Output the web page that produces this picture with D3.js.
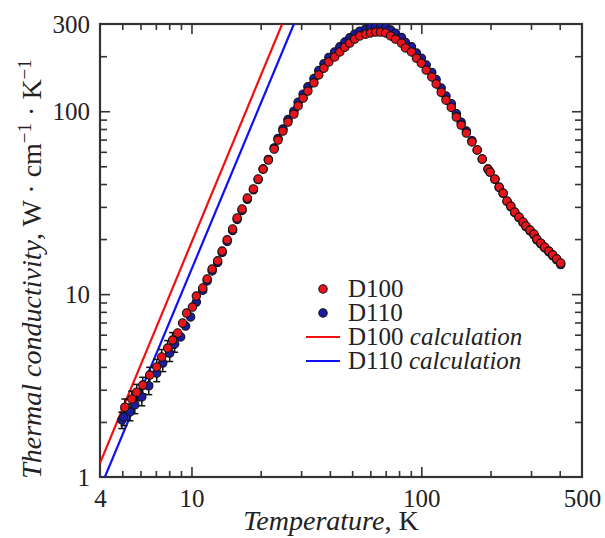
<!DOCTYPE html>
<html>
<head>
<meta charset="utf-8">
<script src="https://cdn.jsdelivr.net/npm/d3@7"></script>
<style>
  body { margin: 0; background: #fff; }
  svg text { font-family: "Liberation Serif", "Times New Roman", serif; fill: #222; }
</style>
</head>
<body>
<script>
'use strict';

// temperature (K) and thermal conductivity (W cm^-1 K^-1)
const tempRed = [5.13, 5.50, 5.78, 6.14, 6.58, 7.06, 7.42, 7.88, 8.28, 8.71, 9.15, 9.52, 10.1, 10.5, 11.2, 11.7,
  12.3, 13.0, 13.6, 14.3, 15.1, 15.8, 16.6, 17.5, 18.6, 19.5, 20.5, 21.6, 22.9, 23.8, 25.0, 26.3, 27.9, 29.1,
  30.6, 32.1, 34.1, 35.8, 37.7, 39.6, 42.0, 44.2, 46.5, 48.8, 51.3, 54.0, 57.3, 60.2, 63.3, 66.5, 69.9, 73.5,
  77.2, 82.0, 85.3, 90.6, 95.2, 100, 105, 111, 116, 122, 128, 135, 142, 149, 157, 166, 175, 184, 195, 199,
  209, 218, 227, 236, 245, 255, 266, 277, 285, 297, 309, 318, 331, 344, 359, 373, 388, 404];
const condRed = [2.41, 2.67, 2.91, 3.18, 3.61, 4.00, 4.53, 5.07, 5.61, 6.13, 6.95, 7.88, 8.50, 9.76, 10.8, 12.1,
  13.7, 15.2, 17.2, 19.8, 22.7, 26.1, 29.2, 33.5, 37.6, 42.6, 48.3, 54.1, 62.1, 69.6, 77.9, 87.3, 96.5, 107,
  118, 129, 143, 158, 172, 186, 198, 211, 224, 236, 248, 258, 264, 268, 271, 271, 268, 258,
  248, 236, 222, 211, 195, 183, 168, 154, 141, 127, 115, 105, 92.9, 84.0, 76.0, 67.9, 61.4, 54.8, 48.3, 46.5,
  42.6, 38.5, 35.7, 32.3, 30.3, 28.1, 26.4, 24.8, 23.6, 22.4, 21.3, 20.0, 19.0, 18.1, 17.2, 16.4, 15.6, 14.8];
const errRed = [0.26, 0.28, 0.30, 0.33, 0.37, 0.40, 0.45, 0.50, 0.55];

const tempBlue = [4.98, 5.08, 5.40, 5.67, 6.08, 6.52, 7.06, 7.50, 8.04, 8.45, 8.97, 9.43, 9.91, 10.5, 11.2, 11.7,
  12.3, 13.0, 13.6, 14.3, 15.1, 15.8, 16.6, 17.5, 18.6, 19.5, 20.5, 21.6, 22.9, 23.8, 25.0, 26.3, 27.9, 29.1,
  30.6, 32.1, 34.1, 35.8, 37.7, 39.6, 42.0, 44.2, 46.5, 48.8, 51.3, 54.0, 57.3, 60.2, 63.3, 66.5, 69.9, 73.5,
  77.2, 82.0, 85.3, 90.6, 95.2, 100, 105, 111, 116, 122, 128, 135, 142, 149, 157, 166, 175, 184, 195, 199,
  209, 218, 227, 236, 245, 255, 266, 277, 285, 297, 309, 318, 331, 344, 359, 373, 388, 404];
const condBlue = [2.05, 2.13, 2.27, 2.48, 2.74, 3.15, 3.70, 4.20, 4.76, 5.34, 5.83, 6.69, 7.50, 9.05, 10.5, 11.8,
  13.4, 14.9, 16.9, 19.4, 22.3, 25.6, 28.7, 33.0, 37.2, 42.3, 48.3, 54.5, 63.0, 71.0, 80.0, 90.0, 100, 112,
  124, 136, 151, 167, 182, 197, 211, 225, 239, 252, 264, 274, 282, 287, 290, 290, 287, 278,
  267, 253, 238, 225, 208, 195, 179, 163, 149, 134, 121, 110, 97.0, 87.0, 78.0, 69.0, 61.4, 54.8, 48.3, 46.5,
  42.4, 38.3, 35.5, 32.1, 30.1, 27.9, 26.2, 24.6, 23.4, 22.2, 21.1, 19.8, 18.8, 17.9, 17.0, 16.2, 15.4, 14.5];
const errBlue = [0.21, 0.22, 0.24, 0.26, 0.29, 0.33, 0.38, 0.43, 0.48, 0.53];

// calculation lines, end points
const calcTempRed = [4, 24.8];
const calcCondRed = [1.19, 300];
const calcTempBlue = [4.2, 27.9];
const calcCondBlue = [1, 300];

const xMajor = [10, 100];
const xMinor = [5, 6, 7, 8, 9, 20, 30, 40, 50, 60, 70, 80, 90, 200, 300, 400];
const xLabels = [4, 10, 100, 500];
const yMajor = [10, 100];
const yMinor = [2, 3, 4, 5, 6, 7, 8, 9, 20, 30, 40, 50, 60, 70, 80, 90, 200];
const yLabels = [1, 10, 100, 300];

const legendItems = [
  { name: "D100", calc: false, color: "#e8141c" },
  { name: "D110", calc: false, color: "#1c1ca0" },
  { name: "D100", calc: true, color: "#f01010" },
  { name: "D110", calc: true, color: "#1010f0" }
];

(function() {

  const plotLeft = 100, plotRight = 582, plotTop = 24, plotBottom = 477;
  const axisColor = "#333";

  const svg = d3.select("body").append("svg")
    .attr("width", 605)
    .attr("height", 538);

  const x = d3.scaleLog().domain([4, 500]).range([plotLeft, plotRight]);
  const y = d3.scaleLog().domain([1, 300]).range([plotBottom, plotTop]);

  svg.append("clipPath").attr("id", "plotClip")
    .append("rect")
    .attr("x", plotLeft).attr("y", plotTop)
    .attr("width", plotRight - plotLeft).attr("height", plotBottom - plotTop);

  // ticks on all four sides, pointing inward
  function tickAxis(axisFn, scale, values, size, transform) {
    let g = svg.append("g")
      .attr("transform", transform)
      .call(axisFn(scale).tickValues(values).tickSize(-size).tickFormat(""));
    g.select(".domain").remove();
    g.selectAll(".tick line").attr("stroke", axisColor).attr("stroke-width", 1.6);
  }
  tickAxis(d3.axisBottom, x, xMajor, 10, `translate(0,${plotBottom})`);
  tickAxis(d3.axisBottom, x, xMinor, 6, `translate(0,${plotBottom})`);
  tickAxis(d3.axisTop, x, xMajor, 10, `translate(0,${plotTop})`);
  tickAxis(d3.axisTop, x, xMinor, 6, `translate(0,${plotTop})`);
  tickAxis(d3.axisLeft, y, yMajor, 10, `translate(${plotLeft},0)`);
  tickAxis(d3.axisLeft, y, yMinor, 7, `translate(${plotLeft},0)`);
  tickAxis(d3.axisRight, y, yMajor, 10, `translate(${plotRight},0)`);
  tickAxis(d3.axisRight, y, yMinor, 7, `translate(${plotRight},0)`);

  // tick labels
  let xLab = svg.append("g")
    .attr("transform", `translate(0,${plotBottom})`)
    .call(d3.axisBottom(x).tickValues(xLabels).tickSize(0).tickPadding(12).tickFormat(d3.format("d")));
  xLab.select(".domain").remove();
  xLab.selectAll("text").attr("font-size", 25).attr("font-family", null);

  let yLab = svg.append("g")
    .attr("transform", `translate(${plotLeft},0)`)
    .call(d3.axisLeft(y).tickValues(yLabels).tickSize(0).tickPadding(10).tickFormat(d3.format("d")));
  yLab.select(".domain").remove();
  yLab.selectAll("text").attr("font-size", 25).attr("font-family", null);

  // frame
  svg.append("rect")
    .attr("x", plotLeft).attr("y", plotTop)
    .attr("width", plotRight - plotLeft).attr("height", plotBottom - plotTop)
    .attr("fill", "none")
    .attr("stroke", axisColor)
    .attr("stroke-width", 2.2);

  const plot = svg.append("g").attr("clip-path", "url(#plotClip)");

  // calculation lines
  let line = d3.line().x(d => x(d[0])).y(d => y(d[1]));
  plot.append("path")
    .datum(d3.zip(calcTempRed, calcCondRed))
    .attr("d", line).attr("fill", "none")
    .attr("stroke", legendItems[2].color).attr("stroke-width", 2.2);
  plot.append("path")
    .datum(d3.zip(calcTempBlue, calcCondBlue))
    .attr("d", line).attr("fill", "none")
    .attr("stroke", legendItems[3].color).attr("stroke-width", 2.2);

  // error bars at low temperature
  function errorBars(temps, conds, errs) {
    let g = plot.append("g").attr("stroke", "#111").attr("stroke-width", 1.5);
    errs.forEach((e, i) => {
      let cx = x(temps[i]), y0 = y(conds[i] - e), y1 = y(conds[i] + e);
      g.append("line").attr("x1", cx).attr("x2", cx).attr("y1", y0).attr("y2", y1);
      g.append("line").attr("x1", cx - 3.5).attr("x2", cx + 3.5).attr("y1", y0).attr("y2", y0);
      g.append("line").attr("x1", cx - 3.5).attr("x2", cx + 3.5).attr("y1", y1).attr("y2", y1);
    });
  }
  errorBars(tempBlue, condBlue, errBlue);
  errorBars(tempRed, condRed, errRed);

  function plotPoints(temps, conds, color) {
    plot.append("g").selectAll("circle")
      .data(d3.zip(temps, conds))
      .enter()
      .append("circle")
        .attr("cx", d => x(d[0]))
        .attr("cy", d => y(d[1]))
        .attr("r", 4.2)
        .attr("fill", color)
        .attr("stroke", "#111")
        .attr("stroke-width", 1.1);
  }
  plotPoints(tempBlue, condBlue, legendItems[1].color);
  plotPoints(tempRed, condRed, legendItems[0].color);

  // legend
  let legend = svg.append("g").attr("transform", "translate(306,289)");
  legendItems.forEach((item, i) => {
    let row = legend.append("g").attr("transform", `translate(0,${i * 24})`);
    if (item.calc) {
      row.append("line").attr("x1", 0).attr("x2", 34).attr("y1", 0).attr("y2", 0)
        .attr("stroke", item.color).attr("stroke-width", 2.2);
    } else {
      row.append("circle").attr("cx", 17).attr("cy", 0).attr("r", 4.2)
        .attr("fill", item.color).attr("stroke", "#111").attr("stroke-width", 1.1);
    }
    let t = row.append("text").attr("x", 42).attr("y", 8).attr("font-size", 25);
    t.append("tspan").text(item.name);
    if (item.calc) t.append("tspan").attr("font-style", "italic").text(" calculation");
  });

  // axis titles
  let xTitle = svg.append("text")
    .attr("x", 331).attr("y", 530)
    .attr("text-anchor", "middle")
    .attr("font-size", 28);
  xTitle.append("tspan").attr("font-style", "italic").text("Temperature");
  xTitle.append("tspan").text(", K");

  let yTitle = svg.append("text")
    .attr("transform", "translate(41,269)rotate(-90)")
    .attr("text-anchor", "middle")
    .attr("font-size", 28);
  yTitle.append("tspan").attr("font-style", "italic").text("Thermal conductivity");
  yTitle.append("tspan").text(", W \u00b7 cm");
  yTitle.append("tspan").attr("font-size", 19).attr("dy", -10).text("\u22121");
  yTitle.append("tspan").attr("dy", 10).text(" \u00b7 K");
  yTitle.append("tspan").attr("font-size", 19).attr("dy", -10).text("\u22121");

})();
</script>
</body>
</html>
